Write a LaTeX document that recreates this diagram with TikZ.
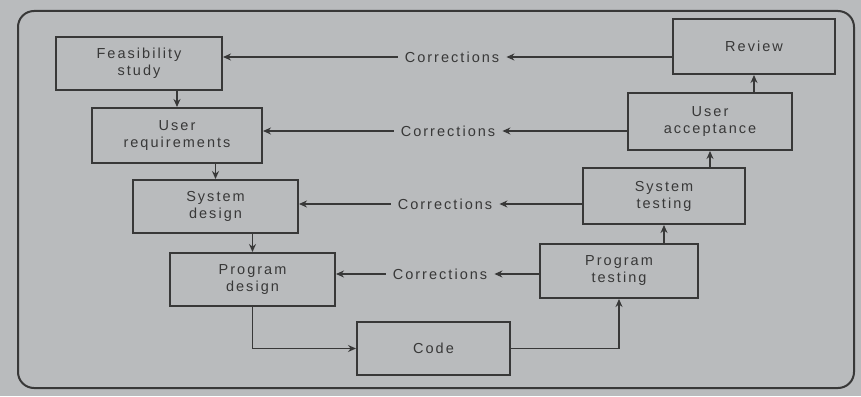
\documentclass[tikz,border=0pt]{standalone}
\usepackage{fontspec}
\setmainfont{Liberation Sans}[LetterSpace=14]
\usetikzlibrary{arrows.meta}
\definecolor{paper}{HTML}{B9BBBD}
\definecolor{ink}{HTML}{383838}
\begin{document}
\begin{tikzpicture}[x=1pt,y=-1pt,
  stage/.style={draw=ink, line width=2pt, text=ink, align=center,
    inner sep=0pt, font=\fontsize{14.5}{17}\selectfont},
  flow/.style={draw=ink, line width=1.6pt, -{Stealth[length=8pt,width=7pt]}},
  fix/.style={text=ink, inner sep=7pt, font=\fontsize{14.5}{17}\selectfont}]
% paper and frame
\fill[paper] (0,0) rectangle (861,396);
\useasboundingbox (0,0) rectangle (861,396);
\draw[ink, line width=2pt, rounded corners=16pt] (18,11) rectangle (854,388);
% development stages
\node[stage, minimum width=166pt, minimum height=53pt] (feas) at (139,63.5) {Feasibility\\study};
\node[stage, minimum width=170pt, minimum height=55pt] (ureq) at (177,135.5) {User\\requirements};
\node[stage, minimum width=165pt, minimum height=53pt] (sysd) at (215.5,206.5) {System\\design};
\node[stage, minimum width=165pt, minimum height=53pt] (progd) at (252.5,279.5) {Program\\design};
\node[stage, minimum width=153pt, minimum height=53pt] (code) at (433.5,348.5) {Code};
% testing stages
\node[stage, minimum width=158pt, minimum height=54pt] (progt) at (619,271) {Program\\testing};
\node[stage, minimum width=162pt, minimum height=56pt] (syst) at (664,196) {System\\testing};
\node[stage, minimum width=164pt, minimum height=57pt] (uacc) at (710,121.5) {User\\acceptance};
\node[stage, minimum width=162pt, minimum height=55pt] (review) at (754,46.5) {Review};
% corrections labels
\node[fix] (c1) at (452,57) {Corrections};
\node[fix] (c2) at (448,131) {Corrections};
\node[fix] (c3) at (445,204) {Corrections};
\node[fix] (c4) at (440,274) {Corrections};
% main flow
\draw[flow] (feas.south -| ureq.north) -- (ureq.north);
\draw[flow] (ureq.south -| sysd.north) -- (sysd.north);
\draw[flow] (sysd.south -| progd.north) -- (progd.north);
\draw[flow] (progd.south) |- (code.west);
\draw[flow] (code.east) -| (progt.south);
\draw[flow] (progt.north -| syst.south) -- (syst.south);
\draw[flow] (syst.north -| uacc.south) -- (uacc.south);
\draw[flow] (uacc.north -| review.south) -- (review.south);
% correction loops
\draw[flow] (review.west |- c1) -- (c1.east);
\draw[flow] (c1.west) -- (feas.east |- c1);
\draw[flow] (uacc.west |- c2) -- (c2.east);
\draw[flow] (c2.west) -- (ureq.east |- c2);
\draw[flow] (syst.west |- c3) -- (c3.east);
\draw[flow] (c3.west) -- (sysd.east |- c3);
\draw[flow] (progt.west |- c4) -- (c4.east);
\draw[flow] (c4.west) -- (progd.east |- c4);
\end{tikzpicture}
\end{document}
